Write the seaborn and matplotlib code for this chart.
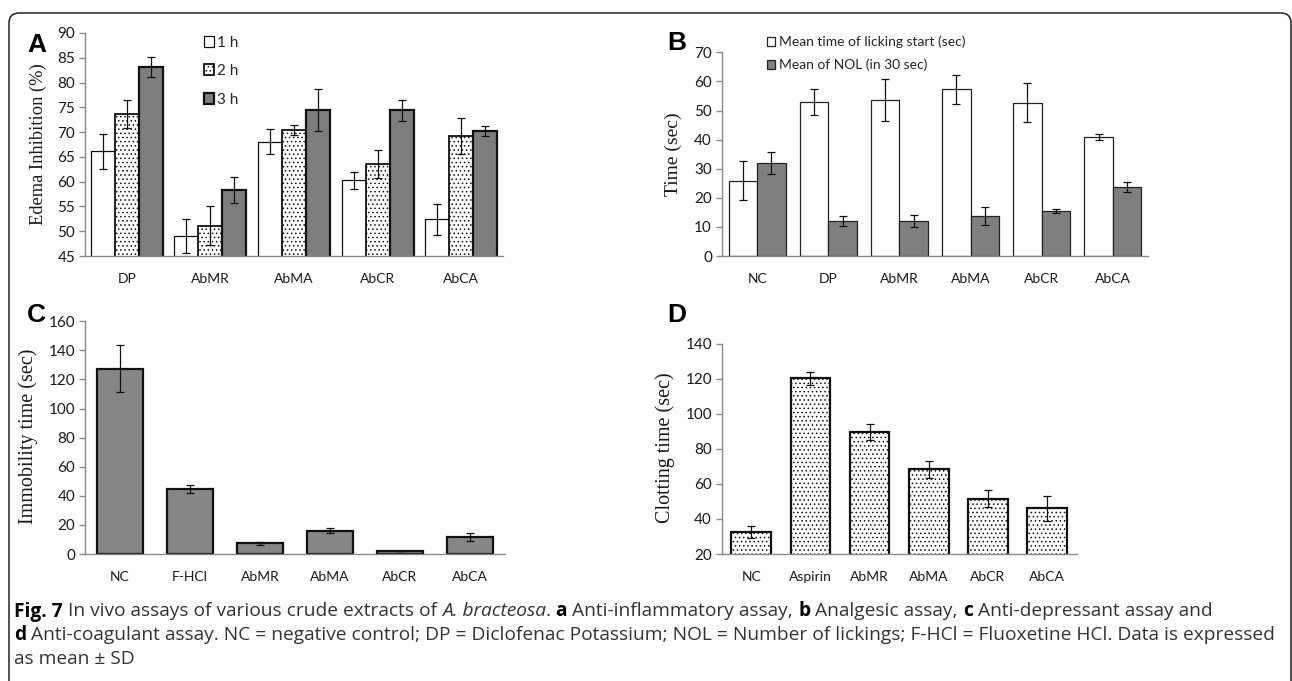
import numpy as np
import pandas as pd
import matplotlib
matplotlib.use("Agg")
import matplotlib.pyplot as plt
from matplotlib import font_manager
from matplotlib.patches import FancyBboxPatch
from matplotlib.transforms import IdentityTransform
import seaborn as sns

# ---------------- data ----------------
a_cats = ["DP", "AbMR", "AbMA", "AbCR", "AbCA"]
a_times = ["1 h", "2 h", "3 h"]
a_1h = [66.1, 49.1, 68.1, 60.3, 52.4]
a_1h_sd = [3.5, 3.4, 2.5, 1.7, 3.1]
a_2h = [73.6, 51.1, 70.4, 63.5, 69.2]
a_2h_sd = [2.8, 3.9, 1.0, 2.8, 3.6]
a_3h = [83.2, 58.3, 74.4, 74.4, 70.3]
a_3h_sd = [2.0, 2.7, 4.2, 2.1, 1.0]

b_cats = ["NC", "DP", "AbMR", "AbMA", "AbCR", "AbCA"]
b_series = ["Mean time of licking start (sec)", "Mean of NOL (in 30 sec)"]
b_start = [25.9, 53.0, 53.6, 57.3, 52.7, 40.9]
b_start_sd = [6.7, 4.5, 7.2, 5.0, 6.8, 1.0]
b_nol = [32.0, 12.0, 12.0, 13.7, 15.6, 23.8]
b_nol_sd = [3.7, 1.8, 2.0, 3.0, 0.7, 1.7]

c_cats = ["NC", "F-HCl", "AbMR", "AbMA", "AbCR", "AbCA"]
c_vals = [127.4, 44.5, 7.3, 16.0, 2.1, 11.7]
c_sd = [16.2, 2.6, 0.9, 1.6, 0.3, 2.9]

d_cats = ["NC", "Aspirin", "AbMR", "AbMA", "AbCR", "AbCA"]
d_vals = [32.6, 120.2, 89.6, 68.3, 51.6, 46.1]
d_sd = [3.5, 3.6, 4.3, 5.0, 5.0, 7.2]

a_ticks = [45, 50, 55, 60, 65, 70, 75, 80, 85, 90]
b_ticks = [0, 10, 20, 30, 40, 50, 60, 70]
c_ticks = [0, 20, 40, 60, 80, 100, 120, 140, 160]
d_ticks = [20, 40, 60, 80, 100, 120, 140]

# ---------------- style ----------------
sns.set_style("white")
available = {f.name for f in font_manager.fontManager.ttflist}
def pick(names, default="DejaVu Sans"):
    for n in names:
        if n in available:
            return n
    return default

TICK_FONT = pick(["Lato", "Open Sans", "Liberation Sans"])
SERIF = pick(["Liberation Serif", "DejaVu Serif"])
BOLD_FONT = pick(["Liberation Sans", "DejaVu Sans"])
CAP_FONT = pick(["Open Sans", "Noto Sans", "Lato"])
plt.rcParams["font.family"] = [TICK_FONT, "DejaVu Sans"]
plt.rcParams["hatch.linewidth"] = 0.6

W, H = 1292, 681
fig = plt.figure(figsize=(W / 100, H / 100), dpi=100)
fig.patch.set_facecolor("white")

SPINE = "#8a8a8a"
TXT = "#1a1a1a"

def px_axes(l, r, t, b):
    return fig.add_axes([l / W, 1 - b / H, (r - l) / W, (b - t) / H])

def style_axes(ax, ylim, yticks, ylab, lab_xy, lab_size=14.5):
    ax.set_ylim(*ylim)
    ax.set_yticks(yticks)
    n = len(ax.get_xticks())
    ax.set_xlim(-0.5, n - 0.5)
    ax.set_xticks(np.arange(-0.5, n, 1.0), minor=True)
    for s in ["top", "right"]:
        ax.spines[s].set_visible(False)
    for s in ["left", "bottom"]:
        ax.spines[s].set_color(SPINE)
        ax.spines[s].set_linewidth(1.0)
    ax.tick_params(axis="x", which="major", length=0, pad=12, labelsize=10, labelcolor=TXT)
    ax.tick_params(axis="x", which="minor", length=5, color=SPINE, width=1.0, direction="out")
    ax.tick_params(axis="y", length=4, color=SPINE, width=1.0, direction="out", pad=3,
                   labelsize=11, labelcolor=TXT, left=True)
    ax.set_xlabel("")
    ax.set_ylabel(ylab, family=SERIF, fontsize=lab_size, color=TXT)
    ax.yaxis.set_label_coords(*lab_xy)
    ax.grid(False)
    ax.set_facecolor("white")

def add_errors(ax, container, sds, lw=0.9):
    xs = [p.get_x() + p.get_width() / 2 for p in container]
    ys = [p.get_height() for p in container]
    ax.errorbar(xs, ys, yerr=sds, fmt="none", ecolor="#111111", elinewidth=lw,
                capsize=2.6, capthick=lw, zorder=5)

# ---------------- Panel A ----------------
axA = px_axes(85, 503, 33, 256)
dfA = pd.DataFrame({
    "cat": a_cats * 3,
    "time": sum([[t] * len(a_cats) for t in a_times], []),
    "val": a_1h + a_2h + a_3h,
})
sns.barplot(data=dfA, x="cat", y="val", hue="time", order=a_cats, hue_order=a_times,
            palette=["white", "white", "#7d7d7d"], saturation=1, width=0.86,
            errorbar=None, edgecolor="black", linewidth=1.0, legend=False, ax=axA)
a_lw = [0.9, 1.3, 1.6]
for cont, lw, sds in zip(axA.containers, a_lw, [a_1h_sd, a_2h_sd, a_3h_sd]):
    for p in cont:
        p.set_linewidth(lw)
        p.set_edgecolor("#111111")
    add_errors(axA, cont, sds)
for p in axA.containers[1]:
    p.set_hatch("....")
style_axes(axA, (45, 90), a_ticks, "Edema Inhibition (%)", (-0.09, 0.5), lab_size=13.3)
axA.legend(handles=list(axA.containers), labels=a_times, loc="upper left",
           bbox_to_anchor=(196 / W, 1 - 28 / H), bbox_transform=fig.transFigure,
           frameon=False, borderpad=0, handletextpad=0.15, handlelength=0.7,
           handleheight=0.7, labelspacing=0.95, fontsize=11)

# ---------------- Panel B ----------------
axB = px_axes(721.7, 1148.3, 52.3, 256)
dfB = pd.DataFrame({
    "cat": b_cats * 2,
    "series": sum([[s] * len(b_cats) for s in b_series], []),
    "val": b_start + b_nol,
})
sns.barplot(data=dfB, x="cat", y="val", hue="series", order=b_cats, hue_order=b_series,
            palette=["white", "#7f7f7f"], saturation=1, width=0.8, errorbar=None,
            edgecolor="#222222", linewidth=0.9, legend=False, ax=axB)
for cont, sds in zip(axB.containers, [b_start_sd, b_nol_sd]):
    add_errors(axB, cont, sds)
style_axes(axB, (0, 70), b_ticks, "Time (sec)", (-0.093, 0.498), lab_size=14)
axB.legend(handles=list(axB.containers), labels=b_series, loc="upper left",
           bbox_to_anchor=(760 / W, 1 - 29 / H), bbox_transform=fig.transFigure,
           frameon=False, borderpad=0, handletextpad=0.3, handlelength=0.55,
           handleheight=0.65, labelspacing=0.75, fontsize=10)

# ---------------- Panel C ----------------
axC = px_axes(85, 505, 321.3, 554)
sns.barplot(x=c_cats, y=c_vals, color="#868686", saturation=1, width=0.67,
            errorbar=None, edgecolor="#111111", linewidth=1.6, ax=axC)
add_errors(axC, axC.containers[0], c_sd)
style_axes(axC, (0, 160), c_ticks, "Immobility time (sec)", (-0.112, 0.504))

# ---------------- Panel D ----------------
axD = px_axes(721.7, 1076.7, 343.7, 554)
sns.barplot(x=d_cats, y=d_vals, color="white", saturation=1, width=0.67,
            errorbar=None, edgecolor="#111111", linewidth=1.6, ax=axD)
for p in axD.containers[0]:
    p.set_hatch("....")
add_errors(axD, axD.containers[0], d_sd)
style_axes(axD, (20, 140), d_ticks, "Clotting time (sec)", (-0.1315, 0.504))

# ---------------- panel letters ----------------
for letter, x, ybase in [("A", 27, 52), ("B", 667, 50), ("C", 27, 322), ("D", 667, 322)]:
    fig.text(x / W, 1 - ybase / H, letter, family=BOLD_FONT, fontweight="bold",
             fontsize=19, color="black", va="baseline", ha="left")

# ---------------- frame ----------------
frame = FancyBboxPatch((9, -40), W - 10, H - 13 + 40,
                       boxstyle="round,pad=0,rounding_size=10",
                       transform=IdentityTransform(), fill=False,
                       edgecolor="#222222", linewidth=1.1, clip_on=False)
fig.add_artist(frame)

# ---------------- caption ----------------
CAP_COL = "#333333"
line1 = [("Fig. 7", "bold", "normal"), (" In vivo assays of various crude extracts of ", "normal", "normal"),
         ("A. bracteosa", "normal", "italic"), (". ", "normal", "normal"), ("a", "bold", "normal"),
         (" Anti-inflammatory assay, ", "normal", "normal"), ("b", "bold", "normal"),
         (" Analgesic assay, ", "normal", "normal"), ("c", "bold", "normal"),
         (" Anti-depressant assay and", "normal", "normal")]
line2 = [("d", "bold", "normal"),
         (" Anti-coagulant assay. NC = negative control; DP = Diclofenac Potassium; NOL = Number of lickings; F-HCl = Fluoxetine HCl. Data is expressed",
          "normal", "normal")]
line3 = [("as mean ± SD", "normal", "normal")]

renderer = fig.canvas.get_renderer()

def measure(runs, size):
    total = 0
    for s, w, st in runs:
        t = fig.text(0, 0, s, family=[CAP_FONT, "DejaVu Sans"], fontsize=size,
                     fontweight=w, fontstyle=st)
        total += t.get_window_extent(renderer).width
        t.remove()
    return total

cap_size = 10.0 * (1263 / measure(line2, 10.0))

def draw_runs(runs, x, ycen, size):
    for s, w, st in runs:
        t = fig.text(x, H - ycen, s, family=[CAP_FONT, "DejaVu Sans"], fontsize=size,
                     fontweight=w, fontstyle=st, color="black" if w == "bold" else CAP_COL,
                     va="center_baseline", ha="left", transform=IdentityTransform())
        x += t.get_window_extent(renderer).width

draw_runs(line1, 14, 609, cap_size)
draw_runs(line2, 14, 633, cap_size)
draw_runs(line3, 14, 657, cap_size)

fig.savefig("out.png", dpi=100, facecolor="white")
